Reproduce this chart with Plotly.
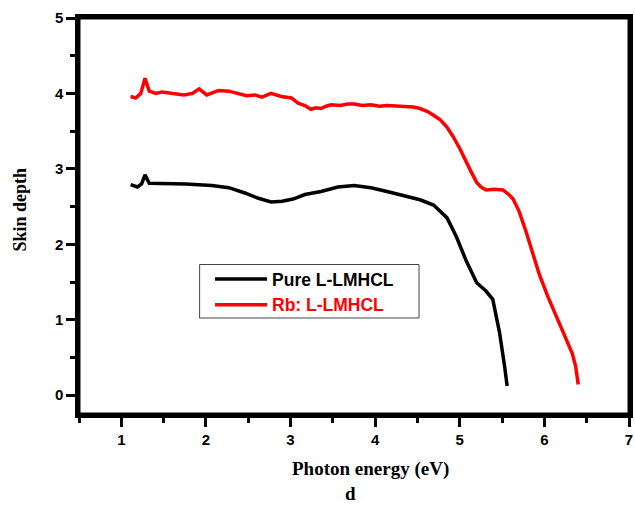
import plotly.graph_objects as go

# Photon energy (eV) and skin depth values
pure_x = [1.11, 1.19, 1.24, 1.28, 1.33, 1.45, 1.76, 2.07, 2.27, 2.46,
          2.62, 2.77, 2.90, 3.03, 3.17, 3.36, 3.56, 3.75, 3.95, 4.14,
          4.34, 4.53, 4.69, 4.85, 4.96, 5.08, 5.20, 5.31, 5.39, 5.47,
          5.53, 5.56]
pure_y = [2.79, 2.76, 2.80, 2.92, 2.81, 2.81, 2.80, 2.78, 2.75, 2.68,
          2.61, 2.56, 2.57, 2.60, 2.66, 2.70, 2.76, 2.78, 2.75, 2.70,
          2.64, 2.59, 2.52, 2.35, 2.10, 1.77, 1.49, 1.38, 1.27, 0.83,
          0.38, 0.12]

rb_x = [1.11, 1.17, 1.23, 1.28, 1.33, 1.41, 1.48, 1.60, 1.74, 1.84,
        1.92, 2.01, 2.15, 2.27, 2.38, 2.48, 2.58, 2.66, 2.77, 2.89,
        3.01, 3.09, 3.17, 3.24, 3.30, 3.36, 3.42, 3.48, 3.59, 3.67,
        3.75, 3.85, 3.95, 4.05, 4.14, 4.24, 4.34, 4.45, 4.53, 4.62,
        4.69, 4.77, 4.85, 4.92, 5.00, 5.06, 5.13, 5.20, 5.25, 5.31,
        5.41, 5.51, 5.58, 5.63, 5.70, 5.78, 5.86, 5.94, 6.04, 6.15,
        6.25, 6.33, 6.37, 6.40]
rb_y = [3.96, 3.94, 4.00, 4.20, 4.03, 4.00, 4.02, 4.00, 3.98, 4.00,
        4.06, 3.98, 4.04, 4.03, 4.00, 3.97, 3.98, 3.95, 4.00, 3.96,
        3.94, 3.87, 3.84, 3.79, 3.81, 3.80, 3.83, 3.85, 3.84, 3.86,
        3.86, 3.84, 3.85, 3.83, 3.84, 3.83, 3.83, 3.82, 3.80, 3.76,
        3.71, 3.65, 3.55, 3.43, 3.27, 3.12, 2.97, 2.82, 2.76, 2.72,
        2.73, 2.72, 2.66, 2.60, 2.44, 2.18, 1.90, 1.60, 1.31, 1.02,
        0.78, 0.55, 0.38, 0.14]

series_names = ["Pure L-LMHCL", "Rb: L-LMHCL"]
x_ticks = [1, 2, 3, 4, 5, 6, 7]
y_ticks = [0, 1, 2, 3, 4, 5]

W, H = 635, 507
ML, MR, MT, MB = 79, 2, 18, 93
PW, PH = W - ML - MR, H - MT - MB


def px_x(p):
    return (p - ML) / PW


def px_y(p):
    return (H - MB - p) / PH


fig = go.Figure()
fig.add_trace(go.Scatter(x=pure_x, y=pure_y, mode="lines",
                         name="<b>" + series_names[0] + "</b>",
                         line=dict(color="black", width=3.5)))
fig.add_trace(go.Scatter(x=rb_x, y=rb_y, mode="lines",
                         name='<b><span style="color:#ff0000">' + series_names[1] + "</span></b>",
                         line=dict(color="#ff0000", width=3.5)))

sans = "Arial, Liberation Sans, sans-serif"
serif = "Times New Roman, Liberation Serif, serif"

axis_common = dict(
    showline=True, linecolor="black", linewidth=3.5, mirror=True,
    showgrid=False, zeroline=False,
    ticks="outside", ticklen=9, tickwidth=3, tickcolor="black",
    tickfont=dict(family=sans, size=15, color="black"),
    minor=dict(dtick=0.5, ticks="outside", ticklen=5, tickwidth=3,
               tickcolor="black", showgrid=False),
)

fig.update_layout(
    width=W, height=H,
    margin=dict(l=ML, r=MR, t=MT, b=MB),
    paper_bgcolor="white", plot_bgcolor="white",
    xaxis=dict(range=[0.5, 7.0], tickvals=x_ticks,
               ticktext=["<b>%d</b>" % v for v in x_ticks], **axis_common),
    yaxis=dict(range=[-0.25, 5.0], tickvals=y_ticks,
               ticktext=["<b>%d</b>" % v for v in y_ticks], **axis_common),
    showlegend=True,
    legend=dict(x=px_x(211), y=px_y(261), xanchor="left", yanchor="top",
                bgcolor="rgba(0,0,0,0)", borderwidth=0,
                itemwidth=52,
                font=dict(family=sans, size=17.5, color="black")),
    shapes=[
        dict(type="rect", xref="paper", yref="paper",
             x0=px_x(200.5), x1=px_x(421.5), y0=px_y(318), y1=px_y(264.5),
             line=dict(color="#444444", width=1)),
        dict(type="rect", xref="paper", yref="paper", layer="above",
             x0=0, x1=1, y0=0, y1=1,
             line=dict(color="black", width=3)),
    ],
    annotations=[
        dict(text="<b>Photon energy (eV)</b>", xref="paper", yref="paper",
             x=px_x(373), y=px_y(469), showarrow=False,
             xanchor="center", yanchor="middle",
             font=dict(family=serif, size=19, color="black")),
        dict(text="<b>d</b>", xref="paper", yref="paper",
             x=px_x(352), y=px_y(506), showarrow=False,
             xanchor="center", yanchor="bottom",
             font=dict(family=serif, size=19, color="black")),
        dict(text="<b>Skin depth</b>", xref="paper", yref="paper",
             x=px_x(20), y=px_y(209), showarrow=False, textangle=-90,
             xanchor="center", yanchor="middle",
             font=dict(family=serif, size=18, color="black")),
    ],
)

fig.write_html("out.html")
